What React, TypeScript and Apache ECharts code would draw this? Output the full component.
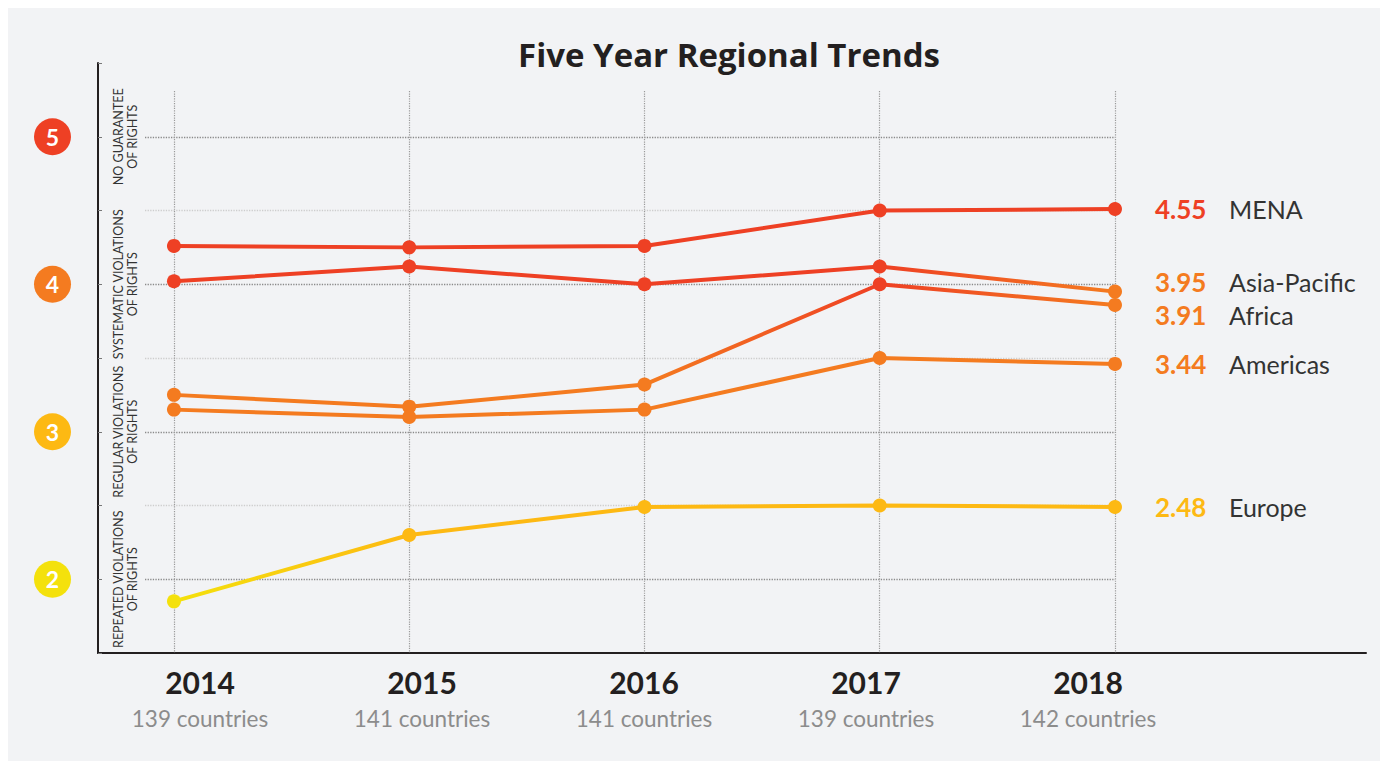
import { useEffect, useRef } from "react";
import * as echarts from "echarts";

// ---- data ----
const years = [2014, 2015, 2016, 2017, 2018];
const countryCounts = ["139 countries", "141 countries", "141 countries", "139 countries", "142 countries"];
const regions = ["MENA", "Asia-Pacific", "Africa", "Americas", "Europe"];
const mena = [4.26, 4.25, 4.26, 4.5, 4.51];
const asiaPacific = [4.02, 4.12, 4.0, 4.12, 3.95];
const africa = [3.25, 3.17, 3.32, 4.0, 3.86];
const americas = [3.15, 3.1, 3.15, 3.5, 3.46];
const europe = [1.85, 2.3, 2.49, 2.5, 2.49];
const latestScores = ["4.55", "3.95", "3.91", "3.44", "2.48"];
const levelTicks = [5, 4, 3, 2];
const levelNames = [
  "NO GUARANTEE\nOF RIGHTS",
  "SYSTEMATIC VIOLATIONS\nOF RIGHTS",
  "REGULAR VIOLATIONS\nOF RIGHTS",
  "REPEATED VIOLATIONS\nOF RIGHTS",
];
const halfTicks = [4.5, 3.5, 2.5];

// ---- styles ----
const FONT = 'Lato, "Open Sans", sans-serif';
const TITLE_FONT = '"Open Sans", Inter, sans-serif';
const RED = "#EE4024";
const ORANGE = "#F47B20";
const AMBER = "#FDB913";
const YELLOW = "#F4E10C";
const DARK = "#231F20";
const circleColors: Record<number, string> = { 5: RED, 4: ORANGE, 3: AMBER, 2: YELLOW };
const bucket = (v: number) => (v >= 4 ? RED : v >= 3 ? ORANGE : v >= 2 ? AMBER : YELLOW);

const X_MIN = 2013.877;
const Y_MIN = 1.5;
const Y_MAX = 5.5;
const VLINE_TOP = 5.31;
const labelNudge = [0, -10, 10, 0, 0];

const isInt = (v: number) => Math.abs(v - Math.round(v)) < 1e-6;

export default function App() {
  const ref = useRef<HTMLDivElement>(null);
  useEffect(() => {
    if (!ref.current) return;
    const chart = echarts.init(ref.current, undefined, { renderer: "svg" });
    const all = [mena, asiaPacific, africa, americas, europe];

    const dataSeries = all.map((vals, si) => {
      const stops = vals.map((v, i) => ({ offset: i / (vals.length - 1), color: bucket(v) }));
      const score = latestScores[si];
      return {
        type: "line",
        name: regions[si],
        xAxisIndex: 0,
        yAxisIndex: 0,
        z: 3,
        clip: false,
        data: years.map((y, i) => [y, vals[i]]),
        symbol: "circle",
        symbolSize: 14,
        showSymbol: true,
        lineStyle: { width: 4, color: new echarts.graphic.LinearGradient(0, 0, 1, 0, stops) },
        itemStyle: { color: (p: any) => bucket(p.value[1]) },
        emphasis: { disabled: true },
        endLabel: {
          show: true,
          distance: 40,
          offset: [0, labelNudge[si]],
          formatter: () => `{v|${score}}{n|${regions[si]}}`,
          rich: {
            v: { fontFamily: FONT, fontSize: 26, fontWeight: "bold", color: bucket(parseFloat(score)), width: 74 },
            n: { fontFamily: FONT, fontSize: 25, color: "#333333" },
          },
        },
      };
    });

    const gridSeries = {
      type: "line",
      xAxisIndex: 0,
      yAxisIndex: 0,
      data: [],
      silent: true,
      markLine: {
        silent: true,
        z: 1,
        symbol: ["none", "none"],
        label: { show: false },
        emphasis: { disabled: true },
        data: [
          ...levelTicks.map((v) => ({ yAxis: v, lineStyle: { color: "#8A8A8A", type: "dotted", width: 1.3 } })),
          ...halfTicks.map((v) => ({ yAxis: v, lineStyle: { color: "#CDCDCD", type: "dotted", width: 1.3 } })),
          ...years.map((y) => [
            { coord: [y, VLINE_TOP], lineStyle: { color: "#9A9A9A", type: "dotted", width: 1.2 } },
            { coord: [y, Y_MIN] },
          ]),
        ],
      },
    };

    chart.setOption({
      animation: false,
      backgroundColor: "#F2F3F5",
      title: {
        text: "Five Year Regional Trends",
        left: 721,
        textAlign: "center",
        top: 30,
        padding: 0,
        textStyle: { fontFamily: TITLE_FONT, fontSize: 33, fontWeight: "bold", color: DARK },
      },
      grid: [
        { left: 137, right: 265, top: 55, bottom: 108 },
        { left: 90, right: 14, top: 55, bottom: 108 },
        { left: 81, right: 181, top: 55, bottom: 108 },
      ],
      xAxis: [
        {
          gridIndex: 0,
          type: "value",
          min: X_MIN,
          max: 2018,
          axisLine: { show: false },
          axisTick: { show: false },
          axisLabel: { show: false },
          splitLine: { show: false },
        },
        {
          gridIndex: 1,
          type: "value",
          min: 0,
          max: 1,
          axisLine: { show: true, lineStyle: { color: DARK, width: 2 } },
          axisTick: { show: false },
          axisLabel: { show: false },
          splitLine: { show: false },
        },
        {
          gridIndex: 2,
          type: "category",
          data: years.map(String),
          boundaryGap: true,
          axisLine: { show: false },
          axisTick: { show: false },
          splitLine: { show: false },
          axisLabel: {
            margin: 12,
            interval: 0,
            formatter: (v: string, i: number) => `{y|${v}}\n{c|${countryCounts[i]}}`,
            rich: {
              y: { fontFamily: FONT, fontSize: 30, fontWeight: "bold", color: DARK, lineHeight: 34 },
              c: { fontFamily: FONT, fontSize: 22.5, color: "#8C8C8C", lineHeight: 39 },
            },
          },
        },
      ],
      yAxis: [
        {
          gridIndex: 0,
          type: "value",
          min: Y_MIN,
          max: Y_MAX,
          interval: 0.5,
          axisLine: { show: false },
          axisTick: { show: false },
          splitLine: { show: false },
          axisLabel: {
            rotate: 90,
            margin: 5,
            fontFamily: FONT,
            fontSize: 12.5,
            lineHeight: 14.5,
            color: "#333333",
            formatter: (v: number) => {
              if (!isInt(v)) return "";
              const k = levelTicks.indexOf(Math.round(v));
              return k >= 0 ? levelNames[k] : "";
            },
          },
        },
        {
          gridIndex: 1,
          type: "value",
          min: Y_MIN,
          max: Y_MAX,
          interval: 0.5,
          axisLine: { show: true, lineStyle: { color: DARK, width: 2 } },
          axisTick: { show: true, inside: true, length: 4, lineStyle: { color: "#777", width: 1 } },
          splitLine: { show: false },
          axisLabel: {
            margin: 27,
            formatter: (v: number) => {
              if (!isInt(v)) return "";
              const n = Math.round(v);
              return levelTicks.indexOf(n) >= 0 ? `{c${n}|${n}}` : "";
            },
            rich: Object.fromEntries(
              levelTicks.map((n) => [
                `c${n}`,
                {
                  width: 37,
                  height: 37,
                  lineHeight: 37,
                  borderRadius: 18.5,
                  backgroundColor: circleColors[n],
                  color: "#FFFFFF",
                  align: "center",
                  fontFamily: FONT,
                  fontSize: 23,
                  fontWeight: "bold",
                },
              ])
            ),
          },
        },
        { gridIndex: 2, type: "value", min: 0, max: 1, show: false },
      ],
      series: [gridSeries, ...dataSeries],
    });
    return () => chart.dispose();
  }, []);
  return <div ref={ref} style={{ width: 1372, height: 753 }} />;
}
